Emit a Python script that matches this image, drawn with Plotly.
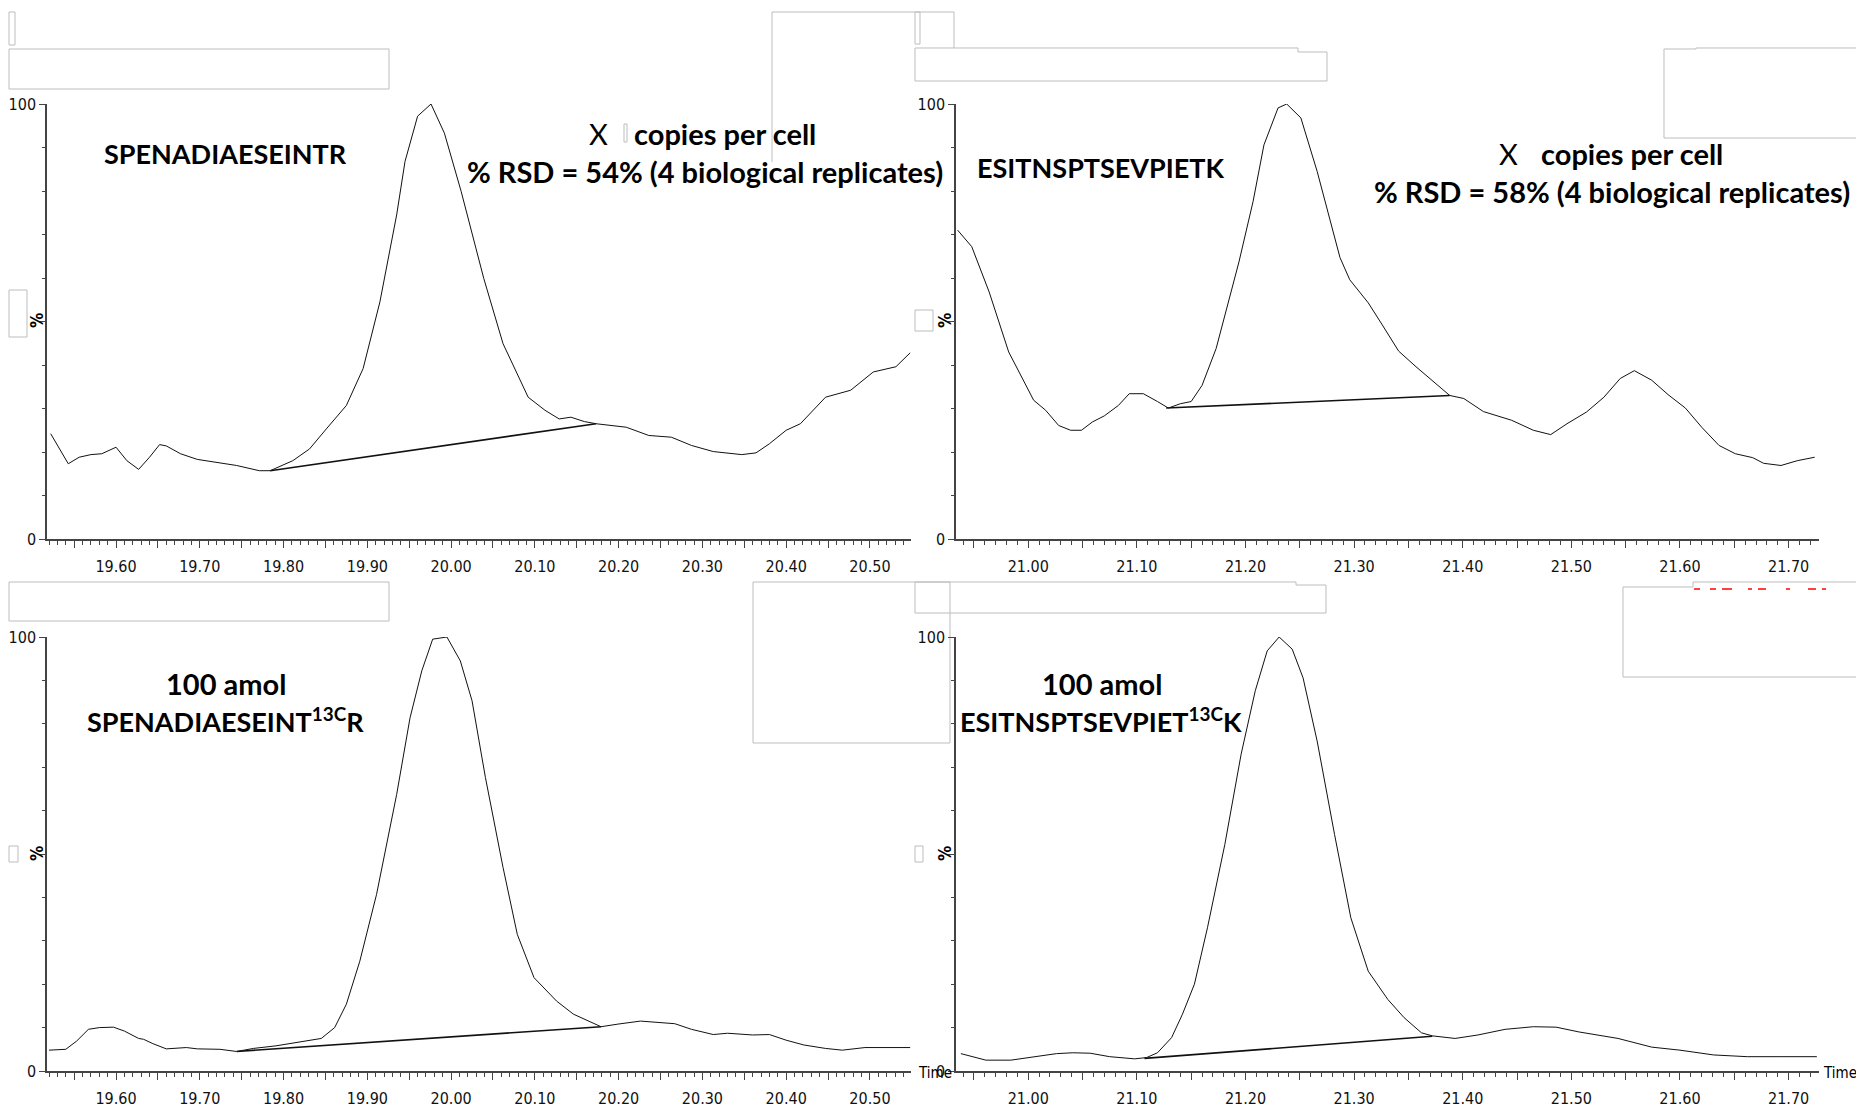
import numpy as np
import plotly.graph_objects as go

W, H = 1856, 1108

# ---------------- chromatogram traces (time in min, relative intensity in %) ----------------
# endogenous SPENADIAESEINTR
tl_time = [19.522, 19.543, 19.556, 19.570, 19.583, 19.600, 19.613, 19.627, 19.640, 19.652,
           19.660, 19.677, 19.697, 19.724, 19.744, 19.771, 19.784, 19.811, 19.831, 19.851,
           19.875, 19.895, 19.915, 19.935, 19.945, 19.960, 19.976, 19.992, 20.012, 20.039,
           20.062, 20.092, 20.112, 20.129, 20.143, 20.159, 20.173, 20.209, 20.236, 20.263,
           20.287, 20.313, 20.347, 20.364, 20.380, 20.400, 20.417, 20.447, 20.477, 20.504,
           20.531, 20.548]
tl_int = [24.2, 17.3, 18.8, 19.4, 19.6, 21.1, 18.0, 16.0, 18.8, 21.7,
          21.4, 19.6, 18.3, 17.4, 16.9, 15.7, 15.7, 18.0, 20.7, 25.3,
          30.7, 39.2, 54.5, 74.5, 86.8, 97.2, 100.0, 93.3, 79.9, 59.9,
          44.9, 32.6, 29.6, 27.6, 28.0, 27.0, 26.5, 25.7, 23.8, 23.4,
          21.5, 20.1, 19.4, 19.8, 21.9, 25.0, 26.5, 32.6, 34.2, 38.4,
          39.6, 42.8]
tl_base_time = [19.784, 20.173]
tl_base_int = [15.7, 26.5]

# endogenous ESITNSPTSEVPIETK
tr_time = [20.935, 20.948, 20.964, 20.982, 21.005, 21.016, 21.028, 21.039, 21.049, 21.059,
           21.070, 21.083, 21.093, 21.106, 21.119, 21.129, 21.140, 21.150, 21.160, 21.173,
           21.194, 21.207, 21.217, 21.230, 21.238, 21.251, 21.266, 21.287, 21.296, 21.313,
           21.326, 21.341, 21.357, 21.372, 21.388, 21.401, 21.419, 21.445, 21.465, 21.481,
           21.496, 21.514, 21.530, 21.545, 21.558, 21.574, 21.589, 21.605, 21.620, 21.636,
           21.651, 21.667, 21.677, 21.693, 21.708, 21.724]
tr_int = [71.0, 67.2, 56.8, 43.0, 31.9, 29.6, 26.1, 25.0, 25.0, 26.9,
          28.3, 30.7, 33.4, 33.4, 31.6, 30.1, 31.1, 31.6, 35.3, 43.8,
          63.7, 77.6, 90.6, 99.1, 100.0, 96.8, 84.5, 64.7, 59.6, 54.3,
          49.2, 43.2, 39.6, 36.5, 33.0, 32.3, 29.3, 27.3, 25.0, 24.0,
          26.5, 29.2, 32.6, 36.9, 38.7, 36.5, 33.2, 30.1, 25.7, 21.5,
          19.6, 18.7, 17.4, 16.9, 18.0, 18.8]
tr_base_time = [21.127, 21.388]
tr_base_int = [30.1, 33.0]

# 100 amol labelled SPENADIAESEINT(13C)R
bl_time = [19.520, 19.540, 19.553, 19.567, 19.580, 19.597, 19.610, 19.627, 19.633, 19.644,
           19.660, 19.684, 19.697, 19.724, 19.744, 19.764, 19.791, 19.818, 19.845, 19.861,
           19.875, 19.891, 19.911, 19.935, 19.951, 19.965, 19.978, 19.995, 20.011, 20.025,
           20.041, 20.062, 20.079, 20.099, 20.126, 20.146, 20.163, 20.179, 20.199, 20.226,
           20.267, 20.287, 20.313, 20.330, 20.360, 20.380, 20.400, 20.421, 20.447, 20.467,
           20.494, 20.548]
bl_int = [4.8, 5.0, 6.9, 9.6, 10.0, 10.1, 9.2, 7.5, 7.3, 6.3,
          5.1, 5.4, 5.1, 5.0, 4.5, 5.2, 5.8, 6.7, 7.5, 10.0,
          15.4, 25.3, 40.7, 63.7, 81.4, 92.2, 99.5, 100.0, 94.5, 85.3,
          67.6, 46.9, 31.5, 21.5, 16.1, 13.1, 11.7, 10.2, 10.8, 11.5,
          10.9, 9.6, 8.4, 8.7, 8.3, 8.4, 7.1, 6.0, 5.2, 4.8,
          5.4, 5.4]
bl_base_time = [19.744, 20.179]
bl_base_int = [4.5, 10.2]

# 100 amol labelled ESITNSPTSEVPIET(13C)K
br_time = [20.938, 20.961, 20.984, 21.005, 21.026, 21.041, 21.057, 21.075, 21.098, 21.109,
           21.119, 21.132, 21.142, 21.153, 21.165, 21.181, 21.196, 21.209, 21.220, 21.231,
           21.243, 21.253, 21.266, 21.282, 21.297, 21.313, 21.331, 21.346, 21.362, 21.372,
           21.393, 21.414, 21.439, 21.465, 21.486, 21.507, 21.543, 21.574, 21.600, 21.631,
           21.662, 21.693, 21.726]
br_int = [4.0, 2.5, 2.5, 3.2, 4.0, 4.2, 4.1, 3.3, 2.8, 3.1,
          4.2, 7.7, 13.1, 20.0, 33.0, 52.2, 73.0, 87.6, 96.8, 100.0,
          97.2, 90.6, 76.0, 54.5, 35.3, 23.0, 16.5, 12.3, 8.8, 8.1,
          7.5, 8.3, 9.6, 10.2, 10.1, 9.0, 7.5, 5.5, 4.8, 3.7,
          3.3, 3.3, 3.3]
br_base_time = [21.107, 21.372]
br_base_int = [2.9, 8.0]

# axis tick labels
left_time_labels = ["19.60", "19.70", "19.80", "19.90", "20.00",
                    "20.10", "20.20", "20.30", "20.40", "20.50"]
right_time_labels = ["21.00", "21.10", "21.20", "21.30", "21.40", "21.50", "21.60", "21.70"]
intensity_labels = ["0", " ", "100"]
intensity_ticks = [0, 50, 100]

left_range = [19.5176, 20.549]
right_range = [20.9335, 21.728]

# ---------------- helpers for pixel placement ----------------
def fx(px):
    return px / W


def fy(py):
    return 1 - py / H


NARROW = "Liberation Sans Narrow, DejaVu Sans Condensed, Roboto Condensed, Liberation Sans, sans-serif"
TICK_FONT = dict(family=NARROW, size=16, color="#111")
LABEL_FONT = "Lato, Open Sans, sans-serif"
AXIS_COLOR = "#444"

fig = go.Figure()

panels = [
    # (time, intensity, base_t, base_i, x px range, y px range, axis range, labels)
    (tl_time, tl_int, tl_base_time, tl_base_int, (47, 911), (104, 539), left_range, left_time_labels),
    (tr_time, tr_int, tr_base_time, tr_base_int, (956, 1819), (104, 539), right_range, right_time_labels),
    (bl_time, bl_int, bl_base_time, bl_base_int, (47, 911), (637, 1071), left_range, left_time_labels),
    (br_time, br_int, br_base_time, br_base_int, (956, 1819), (637, 1071), right_range, right_time_labels),
]

layout_axes = {}
for k, (t, inten, bt, bi, xpx, ypx, xr, labels) in enumerate(panels, start=1):
    xa = "x" if k == 1 else f"x{k}"
    ya = "y" if k == 1 else f"y{k}"
    fig.add_trace(go.Scatter(x=t, y=inten, mode="lines", xaxis=xa, yaxis=ya,
                             line=dict(color="#111", width=1.0), hoverinfo="skip",
                             showlegend=False))
    fig.add_trace(go.Scatter(x=bt, y=bi, mode="lines", xaxis=xa, yaxis=ya,
                             line=dict(color="#111", width=1.6), hoverinfo="skip",
                             showlegend=False))

    lo = float(labels[0]) - 0.05
    major = np.round(np.arange(lo, xr[1] + 1e-9, 0.05), 2)
    label_map = {float(s): s for s in labels}
    ticktext = [label_map.get(float(v), " ") for v in major]

    layout_axes["xaxis" if k == 1 else f"xaxis{k}"] = dict(
        domain=[fx(xpx[0]), fx(xpx[1])], range=xr, anchor=ya, automargin=False,
        showline=True, linecolor=AXIS_COLOR, linewidth=2,
        ticks="outside", tickmode="array", tickvals=list(major), ticktext=ticktext,
        ticklen=7, tickwidth=1, tickcolor=AXIS_COLOR, ticklabelstandoff=5,
        minor=dict(ticks="outside", dtick=0.01, tick0=lo, ticklen=4, tickwidth=1,
                   tickcolor=AXIS_COLOR),
        showgrid=False, zeroline=False, tickfont=TICK_FONT, fixedrange=True,
    )
    layout_axes["yaxis" if k == 1 else f"yaxis{k}"] = dict(
        domain=[fy(ypx[1]), fy(ypx[0])], range=[0, 100], anchor=xa, automargin=False,
        showline=True, linecolor=AXIS_COLOR, linewidth=1.5,
        ticks="outside", tickmode="array", tickvals=intensity_ticks, ticktext=intensity_labels,
        ticklen=6, tickwidth=1, tickcolor=AXIS_COLOR, ticklabelstandoff=0,
        minor=dict(ticks="outside", dtick=10, tick0=0, ticklen=3, tickwidth=1,
                   tickcolor=AXIS_COLOR),
        showgrid=False, zeroline=False, tickfont=TICK_FONT, fixedrange=True,
    )

annotations = []


def text(x, y, s, size, bold=True, family=LABEL_FONT, angle=0, xanchor="center", color="#000"):
    annotations.append(dict(
        x=fx(x), y=fy(y), xref="paper", yref="paper", text=f"<b>{s}</b>" if bold else s,
        showarrow=False, xanchor=xanchor, yanchor="middle", textangle=angle,
        font=dict(family=family, size=size, color=color)))


# peptide labels
text(225, 154, "SPENADIAESEINTR", 27)
text(1101, 167, "ESITNSPTSEVPIETK", 27)
text(226, 683, "100 amol", 29)
text(225, 720, "SPENADIAESEINT<sup>13C</sup>R", 27)
text(1102, 683, "100 amol", 29)
text(1101, 720, "ESITNSPTSEVPIET<sup>13C</sup>K", 27)

# copy number / precision notes
text(598, 134, "X", 29, bold=False)
text(725, 134, "copies per cell", 29)
text(705, 172, "% RSD = 54% (4 biological replicates)", 29)
text(1508, 154, "X", 29, bold=False)
text(1632, 154, "copies per cell", 29)
text(1612, 191, "% RSD = 58% (4 biological replicates)", 29)

# axis captions
for yy in (321, 854):
    text(37, yy, "%", 17, angle=-90, family=NARROW)
    text(945, yy, "%", 17, angle=-90, family=NARROW)
text(916, 1073, "Time", 15, bold=False, family=NARROW, xanchor="left")
text(1821, 1073, "Time", 15, bold=False, family=NARROW, xanchor="left")

# ---------------- empty grey label frames ----------------
shapes = []
FRAME = dict(color="#bdbdbd", width=1)


def rect(x0, y0, x1, y1):
    shapes.append(dict(type="rect", xref="paper", yref="paper",
                       x0=fx(x0), x1=fx(x1), y0=fy(y1), y1=fy(y0),
                       line=FRAME, fillcolor="rgba(0,0,0,0)", layer="below"))


def polyline(pts):
    d = "M " + " L ".join(f"{fx(a):.5f},{fy(b):.5f}" for a, b in pts)
    shapes.append(dict(type="path", xref="paper", yref="paper", path=d, line=FRAME, layer="below"))


rect(9, 12, 15, 45)
rect(9, 49, 389, 89)
polyline([(772, 162), (772, 12), (954, 12), (954, 48)])
rect(915, 12, 920, 44)
polyline([(915, 48), (1298, 48), (1298, 52), (1327, 52), (1327, 81), (915, 81), (915, 48)])
polyline([(1664, 138), (1664, 49), (1696, 49), (1696, 48), (1856, 48)])
polyline([(1664, 138), (1856, 138)])
rect(9, 290, 27, 337)
rect(915, 310, 933, 331)
rect(624, 124, 627, 142)

rect(9, 582, 389, 621)
rect(753, 582, 950, 743)
polyline([(915, 582), (1296, 582), (1296, 585), (1326, 585), (1326, 613), (915, 613), (915, 582)])
polyline([(1856, 677), (1623, 677), (1623, 587), (1693, 587), (1693, 582), (1856, 582)])
rect(9, 846, 18, 862)
rect(915, 846, 923, 862)

# faint red marks along the top of the lower-right frame
for a, b in [(1694, 1700), (1710, 1716), (1722, 1732), (1748, 1752), (1758, 1766),
             (1786, 1790), (1808, 1816), (1822, 1826)]:
    shapes.append(dict(type="line", xref="paper", yref="paper", x0=fx(a), x1=fx(b),
                       y0=fy(589), y1=fy(589), line=dict(color="#ff4040", width=2)))

fig.update_layout(
    width=W, height=H, autosize=False,
    margin=dict(l=0, r=0, t=0, b=0, autoexpand=False),
    paper_bgcolor="white", plot_bgcolor="rgba(0,0,0,0)",
    showlegend=False, annotations=annotations, shapes=shapes,
    **layout_axes,
)

fig.write_html("out.html", config={"displayModeBar": False})
